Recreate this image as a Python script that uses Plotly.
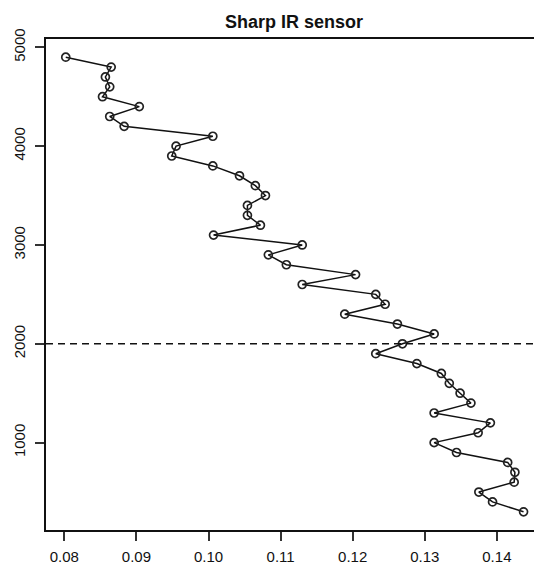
import plotly.graph_objects as go

distance_mm = [4900, 4800, 4700, 4600, 4500, 4400, 4300, 4200, 4100, 4000,
               3900, 3800, 3700, 3600, 3500, 3400, 3300, 3200, 3100, 3000,
               2900, 2800, 2700, 2600, 2500, 2400, 2300, 2200, 2100, 2000,
               1900, 1800, 1700, 1600, 1500, 1400, 1300, 1200, 1100, 1000,
               900, 800, 700, 600, 500, 400, 300]
sensor_value = [0.0802, 0.0865, 0.0857, 0.0863, 0.0853, 0.0904, 0.0863, 0.0883, 0.1006, 0.0955,
                0.0949, 0.1006, 0.1043, 0.1065, 0.1079, 0.1054, 0.1054, 0.1072, 0.1007, 0.1130,
                0.1083, 0.1108, 0.1204, 0.1130, 0.1232, 0.1245, 0.1189, 0.1262, 0.1313, 0.1269,
                0.1232, 0.1289, 0.1323, 0.1334, 0.1349, 0.1364, 0.1313, 0.1391, 0.1374, 0.1313,
                0.1344, 0.1415, 0.1425, 0.1424, 0.1375, 0.1394, 0.1437]
x_ticks = [0.08, 0.09, 0.10, 0.11, 0.12, 0.13, 0.14]
x_tick_labels = ["0.08", "0.09", "0.10", "0.11", "0.12", "0.13", "0.14"]
y_ticks = [1000, 2000, 3000, 4000, 5000]
y_tick_labels = ["1000", "2000", "3000", "4000", "5000"]
threshold = 2000
title_text = "Sharp IR sensor"

FONT = "Liberation Sans, Arial, sans-serif"

fig = go.Figure()
fig.add_trace(go.Scatter(
    x=sensor_value, y=distance_mm, mode="lines+markers",
    line=dict(color="#111111", width=1.5),
    marker=dict(symbol="circle-open", size=8, color="#222222", line=dict(width=1.7, color="#222222")),
    showlegend=False,
))
fig.add_hline(y=threshold, line=dict(color="#111111", width=1.5, dash="7px,5px"))

fig.update_layout(
    width=534, height=564,
    margin=dict(l=46, r=0, t=39, b=34, autoexpand=False),
    paper_bgcolor="white", plot_bgcolor="white",
    font=dict(family=FONT, size=15, color="#111111"),
    title=dict(text="<b>" + title_text + "</b>", x=294 / 534, xanchor="center",
               y=1 - 22 / 564, yanchor="middle", yref="container", xref="container",
               automargin=False,
               font=dict(family=FONT, size=18, color="#111111")),
)
fig.update_xaxes(
    range=[0.07746, 0.14515], tickvals=x_ticks, ticktext=x_tick_labels,
    showgrid=False, zeroline=False, showline=True, linecolor="#111111", linewidth=1.5,
    mirror=True, ticks="outside", ticklen=9, tickwidth=1.5, tickcolor="#333333",
    ticklabelstandoff=3, automargin=False,
)
fig.update_yaxes(
    range=[116, 5084], tickvals=y_ticks, ticktext=y_tick_labels, tickangle=-90,
    showgrid=False, zeroline=False, showline=True, linecolor="#111111", linewidth=1.5,
    ticks="outside", ticklen=9, tickwidth=1.5, tickcolor="#333333",
    ticklabelstandoff=4, automargin=False,
)
fig.write_html("out.html", config={"displayModeBar": False},
               post_script="document.body.style.margin='0';document.body.style.overflow='hidden';")
